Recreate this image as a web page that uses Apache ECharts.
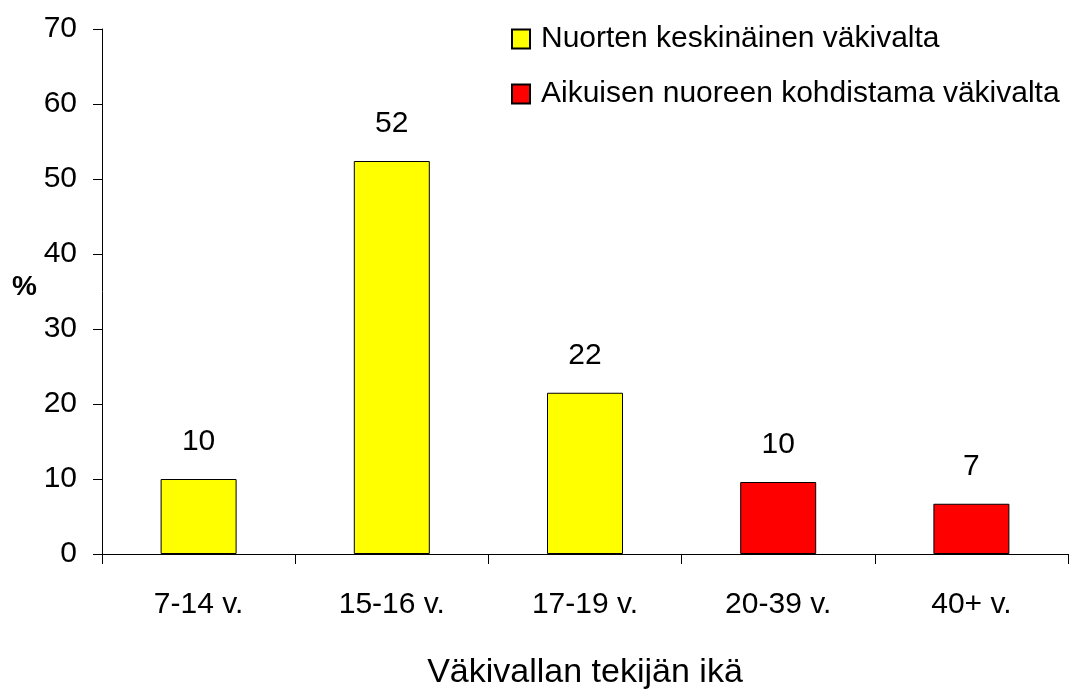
<!DOCTYPE html>
<html>
<head>
<meta charset="utf-8">
<script src="https://cdn.jsdelivr.net/npm/echarts@6/dist/echarts.min.js"></script>
<style>html,body{margin:0;padding:0;background:#fff}#c{width:1077px;height:698px}</style>
</head>
<body>
<div id="c"></div>
<script>
const categories = ['7-14 v.', '15-16 v.', '17-19 v.', '20-39 v.', '40+ v.'];
const seriesNames = ['Nuorten keskinäinen väkivalta', 'Aikuisen nuoreen kohdistama väkivalta'];
const peerValues = [10, 52.4, 21.5, null, null];
const adultValues = [null, null, null, 9.6, 6.7];
const yTicks = [0, 10, 20, 30, 40, 50, 60, 70];
const yName = '%';
const xName = 'Väkivallan tekijän ikä';

const FONT = '"Liberation Sans", Arial, sans-serif';
const chart = echarts.init(document.getElementById('c'), null, {renderer: 'canvas'});
const labelCfg = {
  show: true, position: 'top', distance: 22, color: '#000',
  fontFamily: FONT, fontSize: 30,
  formatter: p => Math.round(p.value)
};
chart.setOption({
  animation: false,
  backgroundColor: '#fff',
  textStyle: {fontFamily: FONT, color: '#000'},
  grid: {left: 102, right: 9, top: 29, bottom: 144, containLabel: false, outerBoundsMode: 'none'},
  legend: {
    orient: 'vertical', left: 511, top: 24, padding: 0,
    itemWidth: 18, itemHeight: 19, itemGap: 25, icon: 'rect',
    textStyle: {fontFamily: FONT, fontSize: 30, color: '#000', lineHeight: 30, padding: [0, 0, 0, 6]},
    data: seriesNames
  },
  xAxis: {
    type: 'category', data: categories,
    name: xName, nameLocation: 'middle', nameGap: 102,
    nameTextStyle: {fontFamily: FONT, fontSize: 34, color: '#000'},
    axisLine: {lineStyle: {color: '#000', width: 1}},
    axisTick: {show: true, length: 10, lineStyle: {color: '#000'}, alignWithLabel: false},
    axisLabel: {margin: 36, fontFamily: FONT, fontSize: 30, color: '#000'}
  },
  yAxis: {
    type: 'value', min: 0, max: 70, interval: 10,
    axisLine: {show: true, lineStyle: {color: '#000', width: 1}},
    axisTick: {show: true, length: 9, lineStyle: {color: '#000'}},
    splitLine: {show: false},
    axisLabel: {margin: 25, fontFamily: FONT, fontSize: 30, color: '#000',
      formatter: v => yTicks.includes(v) ? String(v) : ''}
  },
  graphic: [{
    type: 'text', left: 12, top: 273,
    style: {text: yName, fontFamily: FONT, fontWeight: 'bold', fontSize: 28, fill: '#000'}
  }],
  series: [
    {name: seriesNames[0], type: 'bar', stack: 's', data: peerValues, barWidth: 76,
     itemStyle: {color: '#ffff00', borderColor: '#000', borderWidth: 1}, label: labelCfg},
    {name: seriesNames[1], type: 'bar', stack: 's', data: adultValues, barWidth: 76,
     itemStyle: {color: '#ff0000', borderColor: '#000', borderWidth: 1}, label: labelCfg}
  ]
});
</script>
</body>
</html>
